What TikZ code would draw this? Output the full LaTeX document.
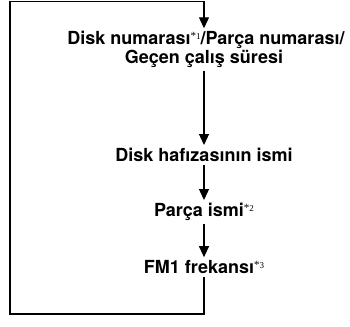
\documentclass[tikz,border=0pt]{standalone}
\usepackage{fontspec}
\setmainfont{TeX Gyre Heros}
\newfontfamily\notefont{Liberation Serif}
\usetikzlibrary{arrows.meta,positioning}
\newcommand{\fnote}[1]{{\notefont\mdseries\raisebox{5pt}{\fontsize{11}{11}\selectfont*\fontsize{9}{9}\selectfont#1}}}

\begin{document}
\begin{tikzpicture}[x=1pt, y=-1pt,
    font=\fontsize{18}{18.5}\selectfont\bfseries,
    entry/.style={align=center, inner sep=3pt},
    ar/.style={-{Triangle[length=11pt,width=10pt]}, line width=1.2pt, draw=black}]
    \useasboundingbox (0,0) rectangle (350,326);
    \node[entry] (disk)   at (206,49.5) {Disk numarası\fnote{1}/Parça numarası/\\\hspace*{-4pt}Geçen çalış süresi};
    \node[entry] (memory) at (204,155)  {Disk hafızasının ismi};
    \node[entry] (track)  at (204,212)  {Parça ismi\fnote{2}};
    \node[entry] (fm)     at (204,267)  {FM1 frekansı\fnote{3}};
    \coordinate (bl) at (10,314);
    \coordinate (tl) at (10,1.5);
    \draw[ar] (disk.south -| memory) -- (memory);
    \draw[ar] (memory) -- (track);
    \draw[ar] (track) -- (fm);
    \draw[ar] (fm.south) |- (bl) -- (tl) -| (disk.north -| memory);
\end{tikzpicture}
\end{document}
